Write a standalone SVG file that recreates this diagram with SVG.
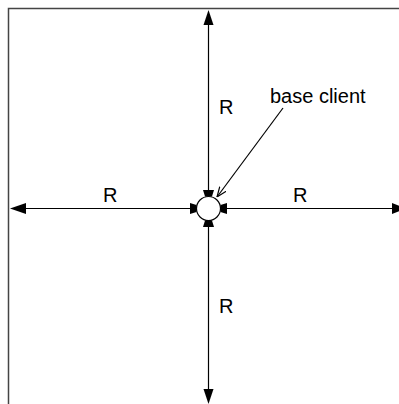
<svg xmlns="http://www.w3.org/2000/svg" width="399" height="404" viewBox="0 0 399 404">
<defs>
<style>
.frame{fill:none;stroke:#444;stroke-width:1.5}
.ln{stroke:#000;stroke-width:1.2;fill:none}
.ah{fill:#000}
text{font-family:"Liberation Sans",Arial,sans-serif;font-size:20px;fill:#000}
</style>
<marker id="open" viewBox="0 0 10 10" refX="10" refY="5" markerWidth="10" markerHeight="10" markerUnits="userSpaceOnUse" orient="auto">
<path d="M0,1 L10,5 L0,9" fill="none" stroke="#000" stroke-width="1.2"/>
</marker>
</defs>
<rect class="frame" x="8.5" y="8.5" width="400" height="400"/>
<g id="connectors">
<line class="ln" x1="208.5" y1="22" x2="208.5" y2="196"/>
<line class="ln" x1="208.5" y1="221" x2="208.5" y2="392"/>
<line class="ln" x1="24" y1="208.5" x2="196" y2="208.5"/>
<line class="ln" x1="221" y1="208.5" x2="394" y2="208.5"/>
<polygon class="ah" points="208.5,10 203.5,25 213.5,25"/>
<polygon class="ah" points="208.5,404 203.5,389 213.5,389"/>
<polygon class="ah" points="10,208.5 26,203 26,214"/>
<polygon class="ah" points="406,208.5 392,203 392,214"/>
<polygon class="ah" points="203,190 214,190 212,196.5 205,196.5"/>
<polygon class="ah" points="203,227 214,227 212,220.5 205,220.5"/>
<polygon class="ah" points="190,203 190,214 196.5,212 196.5,205"/>
<polygon class="ah" points="227,203 227,214 220.5,212 220.5,205"/>
<line class="ln" x1="283" y1="108" x2="217" y2="197" marker-end="url(#open)"/>
</g>
<g id="base-client">
<circle cx="208.5" cy="208.5" r="12" fill="#fff" stroke="#000" stroke-width="1.2"/>
<text x="270" y="103">base client</text>
</g>
<g id="labels">
<text x="219" y="114">R</text>
<text x="103" y="202">R</text>
<text x="293" y="202">R</text>
<text x="219" y="313">R</text>
</g>
</svg>
